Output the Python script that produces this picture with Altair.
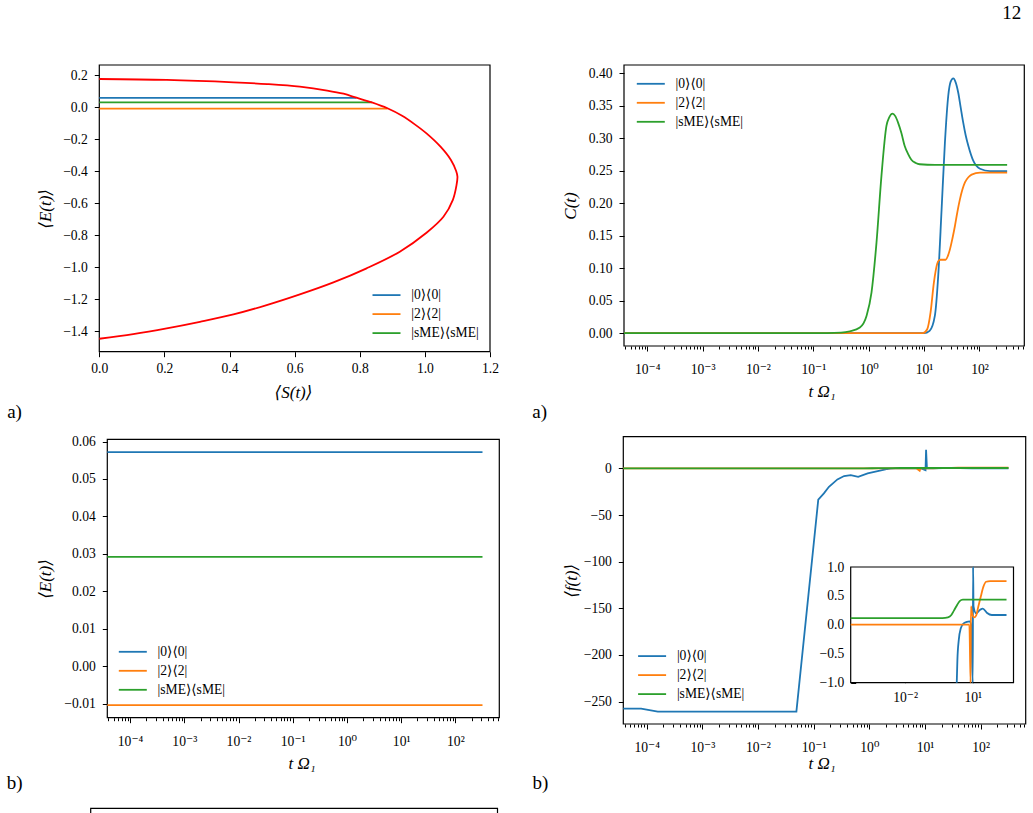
import altair as alt
import pandas as pd

FONT = "Liberation Serif, Times New Roman, DejaVu Serif, serif"
H = 813
SERIES = ["|0⟩⟨0|", "|2⟩⟨2|", "|sME⟩⟨sME|"]
COLORS = ["#1f77b4", "#ff7f0e", "#2ca02c"]

# ---------------- data ----------------
# panel a) left : red curve  <E> vs <S>
a_red_S = [0.0, 0.207, 0.412, 0.516, 0.616, 0.70, 0.75, 0.79, 0.837, 0.885, 0.93, 0.97, 1.005,
           1.048, 1.080, 1.096, 1.100, 1.097, 1.086, 1.057, 1.005, 0.923, 0.821, 0.719, 0.616,
           0.514, 0.412, 0.309, 0.207, 0.104, 0.0]
a_red_E = [0.175, 0.169, 0.154, 0.143, 0.127, 0.103, 0.083, 0.058, 0.029, -0.008, -0.055, -0.11,
           -0.165, -0.248, -0.331, -0.40, -0.435, -0.49, -0.58, -0.686, -0.786, -0.904, -1.008,
           -1.096, -1.171, -1.238, -1.296, -1.342, -1.383, -1.419, -1.448]
# constant energies of the three states (also panel b) left)
state_E = [0.0572, -0.0104, 0.0292]
a_level_S_end = [0.79, 0.885, 0.837]

# panel a) right : C(t), positions given as log10(t Omega_1)
b_blue_logt = [-4.42, 1.0, 1.1, 1.195, 1.255, 1.316, 1.376, 1.436, 1.48, 1.527, 1.57, 1.617,
               1.66, 1.707, 1.75, 1.80, 1.89, 2.01, 2.19, 2.5]
b_blue_val = [0, 0, 0.0036, 0.027, 0.088, 0.19, 0.293, 0.365, 0.387, 0.392, 0.386, 0.370,
              0.348, 0.324, 0.305, 0.288, 0.265, 0.253, 0.2494, 0.2494]
b_orange_logt = [-4.42, 0.98, 1.056, 1.117, 1.177, 1.237, 1.268, 1.298, 1.389, 1.43, 1.467,
                 1.51, 1.557, 1.60, 1.647, 1.738, 1.80, 1.859, 2.01, 2.5]
b_orange_val = [0, 0, 0.006, 0.032, 0.078, 0.107, 0.112, 0.113, 0.113, 0.119, 0.129, 0.145,
                0.165, 0.186, 0.206, 0.232, 0.240, 0.244, 0.247, 0.247]
b_green_logt = [-4.42, -1.0, -0.5, -0.34, -0.16, -0.04, 0.05, 0.14, 0.23, 0.32, 0.37, 0.43,
                0.48, 0.53, 0.59, 0.65, 0.71, 0.77, 0.85, 0.92, 1.2, 2.5]
b_green_val = [0, 0, 0.001, 0.003, 0.0088, 0.0266, 0.0625, 0.139, 0.242, 0.319, 0.332, 0.338,
               0.334, 0.324, 0.308, 0.288, 0.276, 0.267, 0.262, 0.260, 0.259, 0.259]

# panel b) left : <E(t)> constant lines
c_logt_start = -4.42
c_logt_end = 2.5

# panel b) right : <f(t)>
d_blue_logt = [-4.42, -4.1, -3.8, -1.31, -0.917, -0.816, -0.725, -0.573, -0.453, -0.333, -0.2,
               -0.03, 0.15, 0.29, 0.318, 0.38, 0.47, 0.584, 0.736, 0.851, 0.93, 1.01, 1.02,
               1.035, 1.149, 1.327, 1.447, 1.624, 1.847, 2.5]
d_blue_val = [-257.5, -257.5, -260.8, -260.6, -33.5, -26.8, -19.7, -11.8, -8.2, -7.2, -9.0,
              -5.4, -2.9, -1.0, -0.61, -0.26, -0.06, 0.02, 0.05, 0.06, 0.0, -2.0, 20.0,
              0.32, 0.2, 0.26, 0.28, 0.21, 0.17, 0.17]
d_orange_logt = [-4.42, 0.85, 0.905, 0.92, 0.971, 1.06, 1.149, 1.251, 1.358, 1.474, 1.594,
                 1.77, 2.5]
d_orange_val = [0.005, 0.005, -2.5, 0.318, 0.2, 0.13, 0.16, 0.32, 0.49, 0.66, 0.745, 0.757,
                0.757]
d_green_logt = [-4.42, -0.35, -0.1, 0.05, 0.17, 0.3, 0.42, 0.56, 2.5]
d_green_val = [0.115, 0.117, 0.13, 0.17, 0.25, 0.34, 0.41, 0.435, 0.435]

# inset of panel b) right (what is visible inside -1..1)
i_blue_logt = [0.29, 0.318, 0.38, 0.47, 0.584, 0.736, 0.851, 0.93, 1.0, 1.015, 1.035, 1.149,
               1.327, 1.447, 1.624, 1.847, 2.5]
i_blue_val = [-1.0, -0.61, -0.26, -0.06, 0.02, 0.05, 0.06, 0.0, -1.0, 1.0, 0.32, 0.2, 0.26,
              0.28, 0.21, 0.17, 0.17]
i_orange_logt = [-4.42, 0.85, 0.905, 0.92, 0.971, 1.06, 1.149, 1.251, 1.358, 1.474, 1.594,
                 1.77, 2.5]
i_orange_val = [0.005, 0.005, -1.0, 0.318, 0.2, 0.13, 0.16, 0.32, 0.49, 0.66, 0.745, 0.757,
                0.757]

# tick values / labels
a_x_ticks = [0.0, 0.2, 0.4, 0.6, 0.8, 1.0, 1.2]
a_y_ticks = [-1.4, -1.2, -1.0, -0.8, -0.6, -0.4, -0.2, 0.0, 0.2]
b_y_ticks = [0.0, 0.05, 0.10, 0.15, 0.20, 0.25, 0.30, 0.35, 0.40]
c_y_ticks = [-0.01, 0.0, 0.01, 0.02, 0.03, 0.04, 0.05, 0.06]
d_y_ticks = [-250, -200, -150, -100, -50, 0]
i_y_ticks = [-1.0, -0.5, 0.0, 0.5, 1.0]
log_major = [1e-4, 1e-3, 1e-2, 1e-1, 1, 10, 100]
i_x_ticks = [1e-2, 10]
log_minor = [k * 10.0 ** e for e in range(-5, 3) for k in range(2, 10)]
page_labels = ["12", "a)", "a)", "b)", "b)"]
page_label_x = [1011.7, 14.5, 539.7, 14.7, 540.5]
page_label_y = [13, 411.5, 412, 782.5, 782.5]

# ---------------- helpers ----------------
LOG_DOM = [10 ** -4.42, 10 ** 2.81]
log_minor = [v for v in log_minor if LOG_DOM[0] <= v <= LOG_DOM[1]]
LOG_EXPR = ("'10' + (datum.value < 1 ? '⁻' : '') + "
            "['⁰','¹','²','³','⁴','⁵'][abs(round(log(datum.value)/LN10))]")

def sx(dom, rng, log=False):
    if log:
        return alt.Scale(type="log", domain=dom, range=rng, nice=False)
    return alt.Scale(domain=dom, range=rng, nice=False, zero=False)

def sy(dom, rng):
    return alt.Scale(domain=dom, range=rng, nice=False, zero=False)

BASE_AXIS = dict(domain=False, grid=False, labelFont=FONT, labelFontSize=13.6,
                 labelColor="black", tickColor="black", tickWidth=1, labelFlush=False,
                 labelOverlap=False, titleFont=FONT, titleFontSize=17,
                 titleFontWeight="normal", titleColor="black", titleFontStyle="italic")

def xaxis(bottom, values, title=None, title_x=None, title_y=41, pad=5, tick=5, fmt=None,
          expr=None, inward=False, labels=True):
    kw = dict(BASE_AXIS)
    gy = bottom - tick if inward else bottom
    kw.update(orient="bottom", offset=gy - H, values=values, tickSize=tick, labelPadding=pad)
    if fmt:
        kw["format"] = fmt
    if expr:
        kw["labelExpr"] = expr
    if not labels:
        kw["labels"] = False
    if title:
        kw.update(title=title, titleX=title_x, titleY=bottom + title_y - gy,
                  titleBaseline="middle")
    else:
        kw["title"] = None
    return alt.Axis(**kw)

def yaxis(left, values, title=None, title_x=None, pad=7, tick=5, fmt=None, inward=False):
    kw = dict(BASE_AXIS)
    gx = left + tick if inward else left
    kw.update(orient="left", offset=-gx, values=values, tickSize=tick, labelPadding=pad)
    if fmt:
        kw["format"] = fmt
    if title:
        kw.update(title=title, titleX=title_x - gx, titleBaseline="middle", titleAngle=270)
    else:
        kw["title"] = None
    return alt.Axis(**kw)

def legend(lx, ly):
    return alt.Legend(orient="none", legendX=lx, legendY=ly, title=None, direction="vertical",
                      symbolType="M-2.8,0H2.8", symbolSize=100, symbolStrokeWidth=1.8,
                      labelFont=FONT, labelFontSize=13.6, labelColor="black", rowPadding=4,
                      padding=0, symbolOffset=8, labelOffset=18)

def cscale():
    return alt.Scale(domain=SERIES, range=COLORS)

def frame(xdom, xrng, ydom, yrng, xlog=False, xax=None, yax=None, fill="white", fop=0.0):
    df = pd.DataFrame({"x0": [xdom[0]], "x1": [xdom[1]], "y0": [ydom[0]], "y1": [ydom[1]]})
    return alt.Chart(df).mark_rect(fill=fill, fillOpacity=fop, stroke="black",
                                   strokeWidth=1.2).encode(
        x=alt.X("x0:Q", scale=sx(xdom, xrng, xlog), axis=xax),
        x2="x1:Q",
        y=alt.Y("y0:Q", scale=sy(ydom, yrng), axis=yax),
        y2="y1:Q")

def long_df(items):
    rows = []
    for name, logs, vals in items:
        for i, (e, v) in enumerate(zip(logs, vals)):
            rows.append({"t": 10 ** e, "v": v, "series": name, "i": i})
    return pd.DataFrame(rows)

def lines(df, xdom, xrng, ydom, yrng, xax=None, yax=None, leg=None, interp="linear"):
    color = alt.Color("series:N", scale=cscale(), legend=leg) if leg is not None else \
        alt.Color("series:N", scale=cscale(), legend=None)
    return alt.Chart(df).mark_line(strokeWidth=1.8, interpolate=interp).encode(
        x=alt.X("t:Q", scale=sx(xdom, xrng, True), axis=xax),
        y=alt.Y("v:Q", scale=sy(ydom, yrng), axis=yax),
        color=color,
        order="i:Q")

layers = []

# ---------------- panel a) left ----------------
AX, AXR = [0, 1.2], [99.3, 490]
AY, AYR = [-1.529, 0.2625], [351.7, 65]
layers.append(frame(AX, AXR, AY, AYR,
                    xax=xaxis(351.7, a_x_ticks, "⟨S(t)⟩", 293, 41, pad=5, fmt=".1f"),
                    yax=yaxis(99.3, a_y_ticks, "⟨E(t)⟩", 45, pad=7, fmt=".1f")))
a_lv = pd.DataFrame({"S0": [0.0] * 3, "S1": a_level_S_end, "E": state_E, "series": SERIES})
layers.append(alt.Chart(a_lv).mark_rule(strokeWidth=1.8).encode(
    x=alt.X("S0:Q", scale=sx(AX, AXR), axis=None), x2="S1:Q",
    y=alt.Y("E:Q", scale=sy(AY, AYR), axis=None),
    color=alt.Color("series:N", scale=cscale(), legend=legend(371.7, 288.3))))
a_red = pd.DataFrame({"S": a_red_S, "E": a_red_E, "i": list(range(len(a_red_S)))})
layers.append(alt.Chart(a_red).mark_line(strokeWidth=1.8, color="red",
                                         interpolate="catmull-rom").encode(
    x=alt.X("S:Q", scale=sx(AX, AXR), axis=None),
    y=alt.Y("E:Q", scale=sy(AY, AYR), axis=None),
    order="i:Q"))

# ---------------- panel a) right ----------------
BXR = [624, 1024.3]
BY, BYR = [-0.0197, 0.4127], [346, 65]
layers.append(frame(LOG_DOM, BXR, BY, BYR, xlog=True,
                    xax=xaxis(346, log_minor, tick=3, labels=False)))
b_df = long_df([(SERIES[0], b_blue_logt, b_blue_val), (SERIES[1], b_orange_logt, b_orange_val),
                (SERIES[2], b_green_logt, b_green_val)])
layers.append(lines(b_df, LOG_DOM, BXR, BY, BYR,
                    xax=xaxis(346, log_major, "t Ω₁", 821.7, 45.7, pad=11.5, expr=LOG_EXPR),
                    yax=yaxis(624, b_y_ticks, "C(t)", 570, pad=7, fmt=".2f"),
                    leg=legend(636, 77), interp="monotone"))

# ---------------- panel b) left ----------------
CXR = [107.3, 499.3]
CY, CYR = [-0.01378, 0.0606], [717.7, 439.3]
layers.append(frame(LOG_DOM, CXR, CY, CYR, xlog=True,
                    xax=xaxis(717.7, log_minor, tick=3, labels=False)))
c_df = pd.DataFrame({"t0": [10 ** c_logt_start] * 3, "t1": [10 ** c_logt_end] * 3,
                     "E": state_E, "series": SERIES})
layers.append(alt.Chart(c_df).mark_rule(strokeWidth=1.8).encode(
    x=alt.X("t0:Q", scale=sx(LOG_DOM, CXR, True),
            axis=xaxis(717.7, log_major, "t Ω₁", 301.7, 45.3, pad=11.5, expr=LOG_EXPR)),
    x2="t1:Q",
    y=alt.Y("E:Q", scale=sy(CY, CYR), axis=yaxis(107.3, c_y_ticks, "⟨E(t)⟩", 45, pad=7, fmt=".2f")),
    color=alt.Color("series:N", scale=cscale(), legend=legend(118, 645))))

# ---------------- panel b) right ----------------
DXR = [623.3, 1025.7]
DY, DYR = [-274, 34], [724, 436.7]
layers.append(frame(LOG_DOM, DXR, DY, DYR, xlog=True,
                    xax=xaxis(724, log_minor, tick=3, labels=False)))
d_df = long_df([(SERIES[0], d_blue_logt, d_blue_val), (SERIES[1], d_orange_logt, d_orange_val),
                (SERIES[2], d_green_logt, d_green_val)])
layers.append(lines(d_df, LOG_DOM, DXR, DY, DYR,
                    xax=xaxis(724, log_major, "t Ω₁", 821.7, 39, pad=11.5, expr=LOG_EXPR),
                    yax=yaxis(623.3, d_y_ticks, "⟨f(t)⟩", 571.7, pad=7, fmt="d"),
                    leg=legend(637.3, 649.3)))

# inset
IXR = [850.7, 1013.5]
IY, IYR = [-1.0, 1.0], [682.7, 567]
layers.append(frame(LOG_DOM, IXR, IY, IYR, xlog=True, fop=1.0,
                    xax=xaxis(682.7, i_x_ticks, tick=5, pad=7.6, expr=LOG_EXPR, inward=True),
                    yax=yaxis(850.7, i_y_ticks, tick=5, pad=7, fmt=".1f", inward=True)))
i_df = long_df([(SERIES[0], i_blue_logt, i_blue_val), (SERIES[1], i_orange_logt, i_orange_val),
                (SERIES[2], d_green_logt, d_green_val)])
layers.append(lines(i_df, LOG_DOM, IXR, IY, IYR, interp="monotone"))

# partially visible panel at the bottom of the page
layers.append(frame([0, 1], [90.7, 497.5], [0, 1], [840, 808.3]))

# page labels
lab_df = pd.DataFrame({"txt": page_labels, "px": page_label_x, "py": page_label_y})
layers.append(alt.Chart(lab_df).mark_text(font=FONT, fontSize=19, color="black",
                                          baseline="middle", align="center").encode(
    x=alt.X("px:Q", scale=None), y=alt.Y("py:Q", scale=None), text="txt:N"))

chart = alt.layer(*layers).resolve_scale(
    x="independent", y="independent", color="independent"
).properties(
    width=1033, height=813, padding=0, background="white",
    autosize=alt.AutoSizeParams(type="none")
).configure_view(stroke=None)

chart.save("out.html", embed_options={"renderer": "svg", "actions": False})
